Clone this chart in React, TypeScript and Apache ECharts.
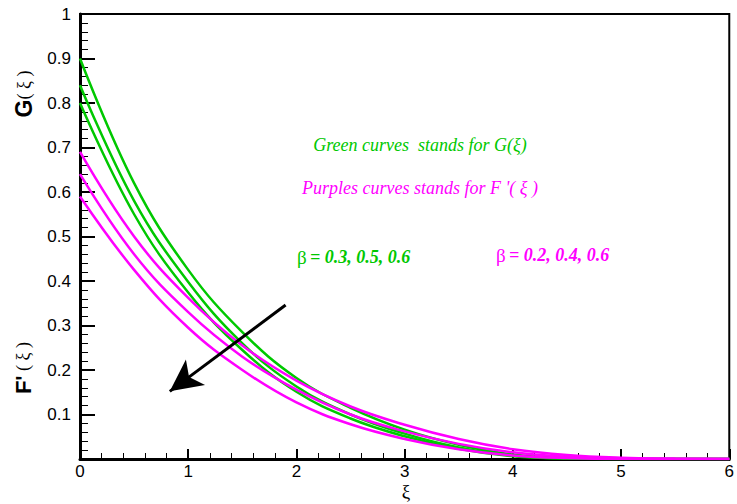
import React, { useEffect, useRef } from "react";
import * as echarts from "echarts";

const xi = [0, 0.5, 1, 1.5, 2, 2.5, 3, 3.5, 4, 4.5, 5, 5.5, 6];
const green1 = [0.9, 0.62, 0.425, 0.285, 0.182, 0.115, 0.066, 0.032, 0.01, 0.002, 0, 0, 0];
const green2 = [0.84, 0.58, 0.398, 0.26, 0.163, 0.1, 0.057, 0.026, 0.008, 0.001, 0, 0, 0];
const green3 = [0.8, 0.55, 0.374, 0.245, 0.151, 0.091, 0.051, 0.023, 0.006, 0.001, 0, 0, 0];
const purple1 = [0.69, 0.5, 0.362, 0.255, 0.176, 0.118, 0.077, 0.045, 0.022, 0.009, 0.003, 0.001, 0];
const purple2 = [0.64, 0.46, 0.33, 0.23, 0.156, 0.1, 0.062, 0.034, 0.015, 0.005, 0.001, 0, 0];
const purple3 = [0.59, 0.425, 0.295, 0.2, 0.127, 0.078, 0.045, 0.022, 0.008, 0.002, 0, 0, 0];
const arrowFrom = [1.9, 0.346];
const arrowTo = [0.83, 0.152];

const GREEN = "#00c800";
const PURPLE = "#ff00ff";

function mk(vals: number[], color: string, extra: any = {}) {
  return {
    type: "line",
    data: xi.map((x, i) => [x, vals[i]]),
    smooth: 0.4,
    showSymbol: false,
    symbol: "none",
    lineStyle: { color, width: 2.5 },
    silent: true,
    ...extra,
  };
}

export default function App() {
  const ref = useRef<HTMLDivElement>(null);
  useEffect(() => {
    document.body.style.margin = "0";
    const chart = echarts.init(ref.current!, null, { renderer: "svg" });
    const serif = "Liberation Serif";
    const sans = "Liberation Sans";
    chart.setOption({
      animation: false,
      backgroundColor: "#fff",
      grid: {
        left: 80,
        right: 3,
        top: 14,
        bottom: 45,
        show: true,
        borderColor: "#000",
        borderWidth: 2,
        containLabel: false,
      },
      xAxis: {
        type: "value",
        min: 0,
        max: 6,
        interval: 1,
        axisLine: { show: true, onZero: false, lineStyle: { color: "#000", width: 3 } },
        axisTick: { show: true, inside: true, length: 10, lineStyle: { color: "#000", width: 2 } },
        minorTick: { show: true, splitNumber: 5, length: 6, lineStyle: { color: "#000", width: 1 } },
        axisLabel: { color: "#000", fontFamily: sans, fontSize: 17, margin: 4 },
        splitLine: { show: false },
      },
      yAxis: {
        type: "value",
        min: 0,
        max: 1,
        interval: 0.1,
        axisLine: { show: true, onZero: false, lineStyle: { color: "#000", width: 3 } },
        axisTick: { show: true, inside: true, length: 15, lineStyle: { color: "#000", width: 2 } },
        minorTick: { show: true, splitNumber: 5, length: 8, lineStyle: { color: "#000", width: 1 } },
        axisLabel: {
          color: "#000",
          fontFamily: sans,
          fontSize: 17,
          margin: 9,
          formatter: (v: number) => (v === 0 ? "" : String(Number(v.toFixed(1)))),
        },
        splitLine: { show: false },
      },
      series: [
        mk(green1, GREEN, {
          markLine: {
            silent: true,
            symbol: ["none", "arrow"],
            symbolSize: [24, 32],
            label: { show: false },
            lineStyle: { color: "#000", width: 3, type: "solid" },
            data: [[{ coord: arrowFrom }, { coord: arrowTo }]],
          },
        }),
        mk(green2, GREEN),
        mk(green3, GREEN),
        mk(purple1, PURPLE),
        mk(purple2, PURPLE),
        mk(purple3, PURPLE),
      ],
      graphic: [
        {
          type: "text",
          x: 24,
          y: 94,
          rotation: Math.PI / 2,
          style: {
            text: "{a|G}{b|( ξ )}",
            align: "center",
            verticalAlign: "middle",
            fill: "#000",
            rich: {
              a: { fontFamily: sans, fontWeight: "bold", fontSize: 23, fill: "#000" },
              b: { fontFamily: serif, fontSize: 18, fill: "#000" },
            },
          },
        },
        {
          type: "text",
          x: 23,
          y: 368,
          rotation: Math.PI / 2,
          style: {
            text: "{a|F'}{b| ( ξ )}",
            align: "center",
            verticalAlign: "middle",
            fill: "#000",
            rich: {
              a: { fontFamily: sans, fontWeight: "bold", fontSize: 22, fill: "#000" },
              b: { fontFamily: serif, fontSize: 18, fill: "#000" },
            },
          },
        },
        {
          type: "text",
          x: 406,
          y: 491,
          style: {
            text: "ξ",
            align: "center",
            verticalAlign: "middle",
            fontFamily: serif,
            fontSize: 19,
            fill: "#000",
          },
        },
        {
          type: "text",
          x: 420,
          y: 145,
          style: {
            text: "Green curves  stands for G(ξ)",
            align: "center",
            verticalAlign: "middle",
            fontFamily: serif,
            fontStyle: "italic",
            fontSize: 18,
            fill: GREEN,
          },
        },
        {
          type: "text",
          x: 420,
          y: 188,
          style: {
            text: "Purples curves stands for F '( ξ )",
            align: "center",
            verticalAlign: "middle",
            fontFamily: serif,
            fontStyle: "italic",
            fontSize: 18,
            fill: PURPLE,
          },
        },
        {
          type: "text",
          x: 297,
          y: 257,
          style: {
            text: "{a|β} {b|= 0.3, 0.5, 0.6}",
            align: "left",
            verticalAlign: "middle",
            fill: GREEN,
            rich: {
              a: { fontFamily: serif, fontSize: 19, fill: GREEN },
              b: { fontFamily: serif, fontSize: 18, fontStyle: "italic", fontWeight: "bold", fill: GREEN },
            },
          },
        },
        {
          type: "text",
          x: 496,
          y: 255,
          style: {
            text: "{a|β} {b|= 0.2, 0.4, 0.6}",
            align: "left",
            verticalAlign: "middle",
            fill: PURPLE,
            rich: {
              a: { fontFamily: serif, fontSize: 19, fill: PURPLE },
              b: { fontFamily: serif, fontSize: 18, fontStyle: "italic", fontWeight: "bold", fill: PURPLE },
            },
          },
        },
      ],
    });
    return () => chart.dispose();
  }, []);
  return <div ref={ref} style={{ width: 737, height: 504 }} />;
}
